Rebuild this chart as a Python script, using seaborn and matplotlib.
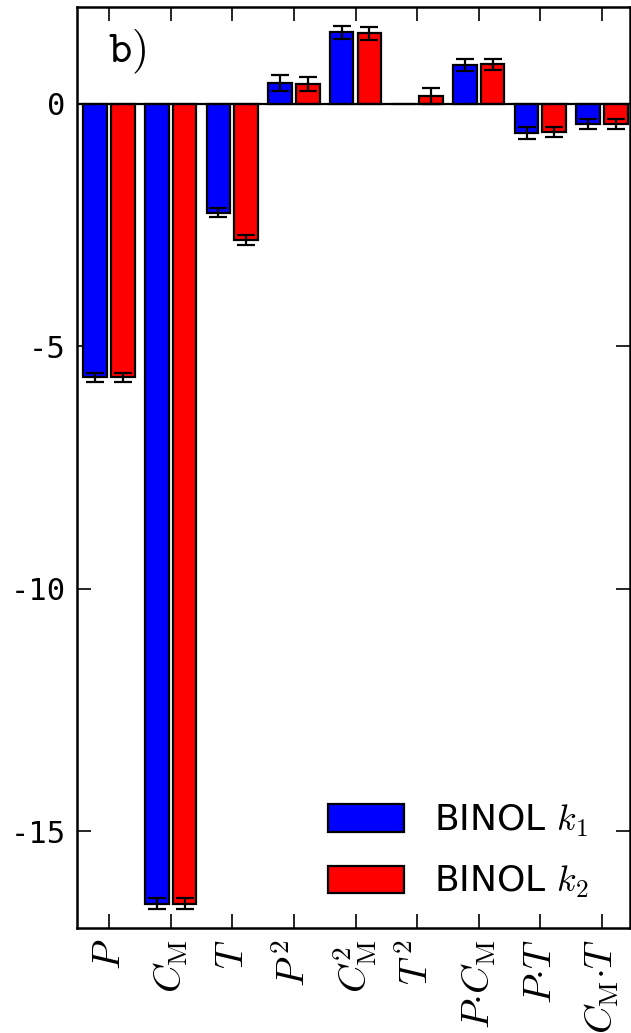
import numpy as np
import pandas as pd
import matplotlib
matplotlib.use("Agg")
import matplotlib.pyplot as plt
from matplotlib.patches import Patch
import seaborn as sns

# Regression coefficients for the two BINOL rate constants
terms = [r"$P$", r"$C_\mathrm{M}$", r"$T$", r"$P^{\,2}$", r"$C_\mathrm{M}^2$",
         r"$T^{\,2}$", r"$P{\cdot}C_\mathrm{M}$", r"$P{\cdot}T$", r"$C_\mathrm{M}{\cdot}T$"]
series = [r"BINOL $k_1$", r"BINOL $k_2$"]
k1_coef = [-5.64, -16.50, -2.24, 0.43, 1.48, 0.00, 0.80, -0.60, -0.41]
k1_err = [0.10, 0.11, 0.10, 0.16, 0.13, 0.00, 0.12, 0.12, 0.11]
k2_coef = [-5.64, -16.50, -2.80, 0.41, 1.46, 0.16, 0.82, -0.58, -0.41]
k2_err = [0.10, 0.11, 0.10, 0.15, 0.13, 0.16, 0.11, 0.11, 0.11]
yticks = [0, -5, -10, -15]

df = pd.DataFrame({
    "term": terms * 2,
    "series": [series[0]] * len(terms) + [series[1]] * len(terms),
    "coef": k1_coef + k2_coef,
    "err": k1_err + k2_err,
})

sns.set_style("white")
plt.rcParams["mathtext.fontset"] = "cm"
plt.rcParams["axes.unicode_minus"] = False
plt.rcParams["text.color"] = "black"
plt.rcParams["xtick.color"] = "black"
plt.rcParams["ytick.color"] = "black"
plt.rcParams["axes.labelcolor"] = "black"

fig = plt.figure(figsize=(6.31, 10.33), dpi=100)
ax = fig.add_axes([0.122, 0.1016, 0.876, 0.8916])

colors = {series[0]: "#0000ff", series[1]: "#ff0000"}
sns.barplot(data=df, x="term", y="coef", hue="series", palette=colors,
            order=terms, hue_order=series, errorbar=None, width=0.9, gap=0.15,
            edgecolor="black", linewidth=1.6, saturation=1, legend=False, ax=ax)

# error bars at the centres of the drawn bars
bars = [p for p in ax.patches]
for p, (_, row) in zip(bars, df.iterrows()):
    if row["err"] > 0:
        ax.errorbar(p.get_x() + p.get_width() / 2, row["coef"], yerr=row["err"],
                    fmt="none", ecolor="black", elinewidth=1.6, capsize=6.5,
                    capthick=1.6, zorder=4)

ax.axhline(0, color="black", lw=1.6, zorder=3)
ax.set_xlim(-0.52, len(terms) - 1 + 0.45)
ax.set_ylim(-17, 2)
ax.set_yticks(yticks)
ax.set_yticklabels([str(v) for v in yticks], family="DejaVu Sans Mono", fontsize=22)
ax.set_xticks(range(len(terms)))
ax.set_xticklabels(terms, rotation=90, fontsize=28)
ax.set_xlabel("")
ax.set_ylabel("")

ax.tick_params(direction="in", length=10, width=1.2, top=True, right=True,
               bottom=True, left=True, color="black", pad=8)
for s in ax.spines.values():
    s.set_color("black")
    s.set_linewidth(1.8)

ax.text(0.056, 0.94, r"$\mathtt{b)}$", transform=ax.transAxes, fontsize=32,
        ha="left", va="baseline")

handles = [Patch(facecolor=colors[s], edgecolor="black", linewidth=1.6) for s in series]
ax.legend(handles, series, loc="lower right", bbox_to_anchor=(0.985, -0.005),
          frameon=False, fontsize=26, handlelength=2.1, handleheight=0.8,
          labelspacing=0.7, handletextpad=0.85)

fig.savefig("out.png", dpi=100)
